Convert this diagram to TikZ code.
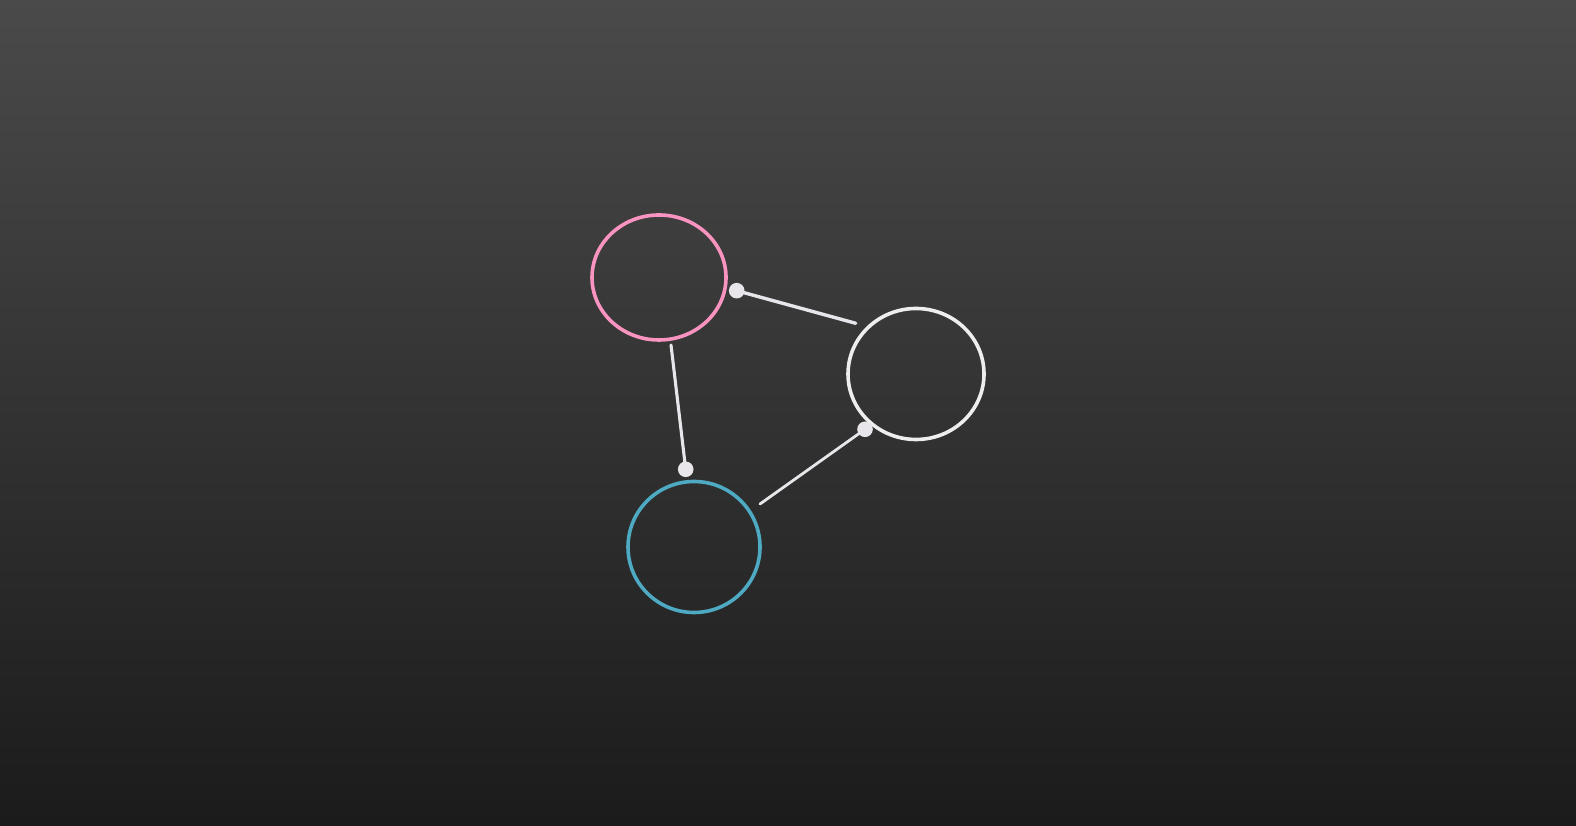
\documentclass[tikz,border=0pt]{standalone}
\usetikzlibrary{shapes.geometric}
\definecolor{bgtop}{HTML}{4A4A4A}
\definecolor{bgbot}{HTML}{1B1B1B}
\definecolor{pinkc}{HTML}{F993C0}
\definecolor{bluec}{HTML}{4DAAC2}
\definecolor{whitec}{HTML}{EEEEEE}
\definecolor{dotc}{HTML}{E8E6EA}
\begin{document}
\begin{tikzpicture}[x=1pt,y=1pt,
  ring/.style={ellipse,draw,line width=3.6pt,inner sep=0pt},
  conn/.style={draw=dotc,line width=3.4pt,line cap=round},
  enddot/.style={fill=dotc}]
\shade[top color=bgtop,bottom color=bgbot] (0,0) rectangle (1576,826);
\useasboundingbox (0,0) rectangle (1576,826);
\node[ring,draw=pinkc,minimum width=134pt,minimum height=125pt] (p) at (659,548.5) {};
\node[ring,draw=whitec,minimum width=136pt,minimum height=131pt] (w) at (916,452) {};
\node[ring,draw=bluec,minimum width=132pt,minimum height=131pt] (b) at (694,279) {};
\coordinate (c1a) at (736.7,535.3);
\coordinate (c1b) at (855.7,502.7);
\coordinate (c2a) at (671,481);
\coordinate (c2b) at (685.7,356.7);
\coordinate (c3a) at (760,322);
\coordinate (c3b) at (865,396.7);
\draw[conn] (c1a) -- (c1b);
\draw[conn,line width=3.1pt] (c2a) -- (c2b);
\draw[conn,line width=2.8pt] (c3a) -- (c3b);
\fill[enddot] (c1a) circle (7.8pt);
\fill[enddot] (c2b) circle (7.8pt);
\fill[enddot] (c3b) circle (7.8pt);
\end{tikzpicture}
\end{document}
